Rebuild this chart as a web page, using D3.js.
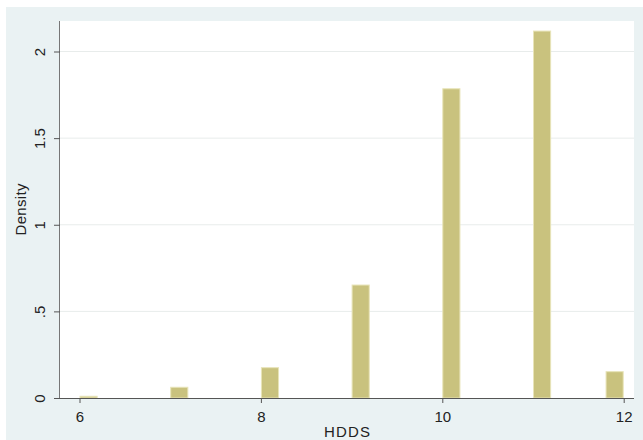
<!DOCTYPE html>
<html>
<head>
<meta charset="utf-8">
<script src="https://cdn.jsdelivr.net/npm/d3@7"></script>
<style>
  html, body { margin: 0; padding: 0; background: #fff; }
  svg { display: block; font-family: "Liberation Sans", Arial, sans-serif; }
</style>
</head>
<body>
<div id="chart"></div>
<script>
// HDDS histogram (density), bin width 0.2
const binStarts = [6, 7, 8, 9, 10, 11, 11.8];
const densities = [0.01, 0.062, 0.175, 0.652, 1.785, 2.118, 0.152];
const binWidth = 0.2;
const xTicks = [6, 8, 10, 12];
const yTicks = [0, 0.5, 1, 1.5, 2];
const yTickLabels = ["0", ".5", "1", "1.5", "2"];

const width = 643;
const height = 440;
const plot = { left: 60, top: 21, right: 634, bottom: 398 };

const svg = d3.select("#chart")
  .append("svg")
  .attr("width", width)
  .attr("height", height);

// graph region
svg.append("rect")
  .attr("x", 6).attr("y", 7)
  .attr("width", width - 6).attr("height", height - 7)
  .attr("fill", "#eaf2f3");

// plot region
svg.append("rect")
  .attr("x", plot.left).attr("y", plot.top)
  .attr("width", plot.right - plot.left).attr("height", plot.bottom - plot.top)
  .attr("fill", "#ffffff");

const x = d3.scaleLinear().domain([6, 12]).range([79.5, 623.7]);
const y = d3.scaleLinear().domain([0, 2]).range([plot.bottom, 51.5]);

// gridlines
svg.append("g")
  .selectAll("line")
  .data(yTicks.filter((d) => d > 0))
  .join("line")
  .attr("x1", plot.left).attr("x2", plot.right)
  .attr("y1", (d) => y(d)).attr("y2", (d) => y(d))
  .attr("stroke", "#e8eceb")
  .attr("stroke-width", 1);

// bars
svg.append("g")
  .selectAll("rect")
  .data(binStarts.map((b, i) => ({ b, v: densities[i] })))
  .join("rect")
  .attr("x", (d) => x(d.b) + 0.5)
  .attr("width", (d) => x(d.b + binWidth) - x(d.b) - 1)
  .attr("y", (d) => y(d.v))
  .attr("height", (d) => y(0) - y(d.v))
  .attr("fill", "#c9c27e")
  .attr("stroke", "#e8e4b9")
  .attr("stroke-width", 1);

// x axis
const xAxis = svg.append("g")
  .attr("transform", `translate(0,${plot.bottom})`)
  .call(d3.axisBottom(x).tickValues(xTicks).tickSize(5).tickPadding(8).tickFormat(d3.format("d")));
xAxis.select(".domain").attr("d", `M${plot.left},0.5H${plot.right}`).attr("stroke", "#555");
xAxis.selectAll(".tick line").attr("stroke", "#555");
xAxis.selectAll(".tick text").attr("fill", "#222").style("font-size", "15px");

// y axis
const yAxis = svg.append("g")
  .attr("transform", `translate(${plot.left},0)`)
  .call(d3.axisLeft(y).tickValues(yTicks).tickSize(6).tickFormat((d, i) => yTickLabels[i]));
yAxis.select(".domain").attr("d", `M-0.5,${plot.bottom}V${plot.top}`).attr("stroke", "#777");
yAxis.selectAll(".tick line").attr("stroke", "#555");
yAxis.selectAll(".tick text")
  .attr("x", null).attr("dy", null)
  .attr("transform", "translate(-15,0) rotate(-90)")
  .attr("text-anchor", "middle")
  .attr("fill", "#222")
  .style("font-size", "15px");

// axis titles
svg.append("text")
  .attr("x", (plot.left + plot.right) / 2)
  .attr("y", 437)
  .attr("text-anchor", "middle")
  .attr("fill", "#222")
  .style("font-size", "15px")
  .attr("textLength", 46)
  .text("HDDS");

svg.append("text")
  .attr("transform", `translate(26,${(plot.top + plot.bottom) / 2}) rotate(-90)`)
  .attr("text-anchor", "middle")
  .attr("fill", "#222")
  .style("font-size", "15px")
  .attr("textLength", 52)
  .text("Density");
</script>
</body>
</html>
